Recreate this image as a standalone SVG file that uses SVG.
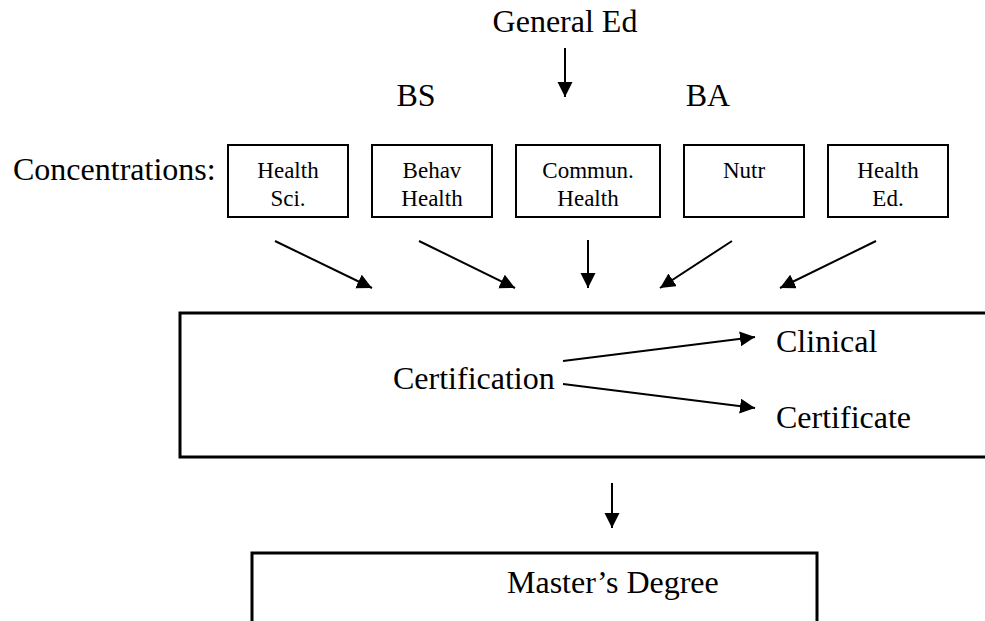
<svg xmlns="http://www.w3.org/2000/svg" width="985" height="621" viewBox="0 0 985 621">
<style>
  text { font-family: "Liberation Serif", "Times New Roman", serif; fill: #000; }
  .big { font-size: 32px; }
  .small { font-size: 23px; text-anchor: middle; }
  .box { fill: #fff; stroke: #000; stroke-width: 2; }
  .bigbox { fill: #fff; stroke: #000; stroke-width: 3; }
  .conn line { stroke: #000; stroke-width: 2; marker-end: url(#ah); }
</style>
<defs>
  <marker id="ah" markerUnits="userSpaceOnUse" markerWidth="16" markerHeight="16" refX="15" refY="7.5" orient="auto">
    <path d="M0,0 L15,7.5 L0,15 z" fill="#000"/>
  </marker>
</defs>
<rect width="985" height="621" fill="#fff"/>

<g id="general-ed"><text class="big" x="565" y="32" text-anchor="middle">General Ed</text></g>
<g id="bs"><text class="big" x="416" y="106" text-anchor="middle">BS</text></g>
<g id="ba"><text class="big" x="708" y="106" text-anchor="middle">BA</text></g>
<g id="concentrations"><text class="big" x="13" y="180">Concentrations:</text></g>

<g id="health-sci"><rect class="box" x="228" y="145" width="120" height="72"/>
  <text class="small" x="288" y="178">Health</text><text class="small" x="288" y="206">Sci.</text></g>
<g id="behav-health"><rect class="box" x="372" y="145" width="120" height="72"/>
  <text class="small" x="432" y="178">Behav</text><text class="small" x="432" y="206">Health</text></g>
<g id="commun-health"><rect class="box" x="516" y="145" width="144" height="72"/>
  <text class="small" x="588" y="178">Commun.</text><text class="small" x="588" y="206">Health</text></g>
<g id="nutr"><rect class="box" x="684" y="145" width="120" height="72"/>
  <text class="small" x="744" y="178">Nutr</text></g>
<g id="health-ed"><rect class="box" x="828" y="145" width="120" height="72"/>
  <text class="small" x="888" y="178">Health</text><text class="small" x="888" y="206">Ed.</text></g>

<g id="certification"><rect class="bigbox" x="180" y="313" width="900" height="144"/>
  <text class="big" x="393" y="389">Certification</text>
  <text class="big" x="776" y="352">Clinical</text>
  <text class="big" x="776" y="428">Certificate</text></g>

<g id="masters"><rect class="bigbox" x="252" y="553" width="565" height="100"/>
  <text class="big" x="507" y="593">Master’s Degree</text></g>

<g id="connectors" class="conn">
  <line x1="565" y1="48" x2="565" y2="97"/>
  <line x1="275" y1="241" x2="372" y2="288"/>
  <line x1="419" y1="241" x2="515" y2="288"/>
  <line x1="588" y1="240" x2="588" y2="288"/>
  <line x1="732" y1="241" x2="660" y2="288"/>
  <line x1="876" y1="241" x2="780" y2="288"/>
  <line x1="563" y1="361" x2="755" y2="337"/>
  <line x1="563" y1="384" x2="755" y2="408"/>
  <line x1="612" y1="483" x2="612" y2="528"/>
</g>
</svg>
